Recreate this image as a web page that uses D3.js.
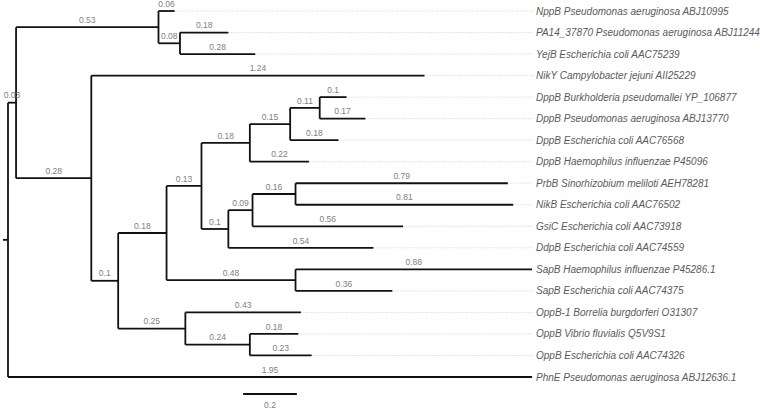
<!DOCTYPE html>
<html><head><meta charset="utf-8">
<script src="https://cdn.jsdelivr.net/npm/d3@7"></script>
<style>
html,body{margin:0;padding:0;background:#fff;}
svg{display:block;font-family:"Liberation Sans",Arial,sans-serif;}
</style></head>
<body><svg id="chart" width="760" height="409"></svg>
<script>
// Tree topology: node id, parent id, branch length
const nodeIds = ["root","A","B","NppB","C","PA14","YejB","D","NikY","E","F","G","H","I","J",
  "DppB_Bp","DppB_Pa","DppB_Ec","DppB_Hi","K","L","M","PrbB","NikB","GsiC","DdpB",
  "N","SapB_Hi","SapB_Ec","O","OppB1","P","OppB_Vf","OppB_Ec","PhnE"];
const parentIds = [null,"root","A","B","B","C","C","A","D","D","E","F","G","H","I",
  "J","J","I","H","G","K","L","M","M","L","K",
  "F","N","N","E","O","O","P","P","root"];
const branchLengths = [0,0.03,0.53,0.06,0.08,0.18,0.28,0.28,1.24,0.1,0.18,0.13,0.18,0.15,0.11,
  0.1,0.17,0.18,0.22,0.1,0.09,0.16,0.79,0.81,0.56,0.54,
  0.48,0.88,0.36,0.25,0.43,0.24,0.18,0.23,1.95];
const leafLabels = {
  NppB:"NppB Pseudomonas aeruginosa ABJ10995",
  PA14:"PA14_37870 Pseudomonas aeruginosa ABJ11244",
  YejB:"YejB Escherichia coli AAC75239",
  NikY:"NikY Campylobacter jejuni AII25229",
  DppB_Bp:"DppB Burkholderia pseudomallei YP_106877",
  DppB_Pa:"DppB Pseudomonas aeruginosa ABJ13770",
  DppB_Ec:"DppB Escherichia coli AAC76568",
  DppB_Hi:"DppB Haemophilus influenzae P45096",
  PrbB:"PrbB Sinorhizobium meliloti AEH78281",
  NikB:"NikB Escherichia coli AAC76502",
  GsiC:"GsiC Escherichia coli AAC73918",
  DdpB:"DdpB Escherichia coli AAC74559",
  SapB_Hi:"SapB Haemophilus influenzae P45286.1",
  SapB_Ec:"SapB Escherichia coli AAC74375",
  OppB1:"OppB-1 Borrelia burgdorferi O31307",
  OppB_Vf:"OppB Vibrio fluvialis Q5V9S1",
  OppB_Ec:"OppB Escherichia coli AAC74326",
  PhnE:"PhnE Pseudomonas aeruginosa ABJ12636.1"
};
const scaleBarValue = 0.2;

const rows = nodeIds.map((id,i)=>({id, parent:parentIds[i], len:branchLengths[i]}));
const root = d3.stratify().id(d=>d.id).parentId(d=>d.parent)(rows);
root.eachBefore(n=>{ n.dist = n.parent ? n.parent.dist + n.data.len : 0; });
const leaves = root.leaves();
const maxDist = d3.max(leaves, l=>l.dist);

const x = d3.scaleLinear().domain([0, maxDist]).range([8, 532]);
const y = d3.scaleLinear().domain([0, leaves.length-1]).range([11, 377]);
leaves.forEach((l,i)=>{ l.yv = y(i); });
root.eachAfter(n=>{ if(n.children){ n.yv = (n.children[0].yv + n.children[n.children.length-1].yv)/2; } });

const svg = d3.select("#chart");
const labelX = 536;

// dotted guides
svg.append("g").selectAll("line").data(leaves.filter(l=>x(l.dist) < labelX-4)).join("line")
  .attr("x1", d=>x(d.dist)).attr("x2", labelX-3)
  .attr("y1", d=>d.yv).attr("y2", d=>d.yv)
  .attr("stroke","#c8c8c8").attr("stroke-width",0.8).attr("stroke-dasharray","1,1.5");

const g = svg.append("g").attr("stroke","#111").attr("stroke-width",1.8).attr("fill","none");
// horizontal branches
g.selectAll("line.h").data(root.descendants().filter(n=>n.parent)).join("line").attr("class","h")
  .attr("x1", d=>x(d.parent.dist)).attr("x2", d=>x(d.dist))
  .attr("y1", d=>d.yv).attr("y2", d=>d.yv);
// vertical connectors
g.selectAll("line.v").data(root.descendants().filter(n=>n.children)).join("line").attr("class","v")
  .attr("x1", d=>x(d.dist)).attr("x2", d=>x(d.dist))
  .attr("y1", d=>d.children[0].yv).attr("y2", d=>d.children[d.children.length-1].yv);
// root stub
g.append("line").attr("x1", x(0)-5).attr("x2", x(0)).attr("y1", root.yv).attr("y2", root.yv);

// branch length labels
svg.append("g").selectAll("text").data(root.descendants().filter(n=>n.parent)).join("text")
  .attr("y", d=>d.yv-4.3)
  .attr("font-size","8.5px").attr("fill","#808080")
  .text(d=>String(d.data.len))
  .each(function(d){
    const w = this.getComputedTextLength();
    const mid = (x(d.parent.dist)+x(d.dist))/2;
    d3.select(this).attr("x", Math.max(mid - w/2, 0));
  });

// leaf labels
svg.append("g").selectAll("text").data(leaves).join("text")
  .attr("x", labelX).attr("y", d=>d.yv+3.5)
  .attr("font-size","10px").attr("font-style","italic").attr("fill","#5a5a5a")
  .text(d=>leafLabels[d.id]);

// scale bar
const cx = (x(0)+x(maxDist))/2;
const w = x(scaleBarValue)-x(0);
svg.append("line").attr("x1", cx-w/2).attr("x2", cx+w/2).attr("y1",394).attr("y2",394)
  .attr("stroke","#111").attr("stroke-width",1.8);
svg.append("text").attr("x", cx).attr("y", 408).attr("text-anchor","middle")
  .attr("font-size","8.5px").attr("fill","#808080").text(String(scaleBarValue));
</script></body></html>
